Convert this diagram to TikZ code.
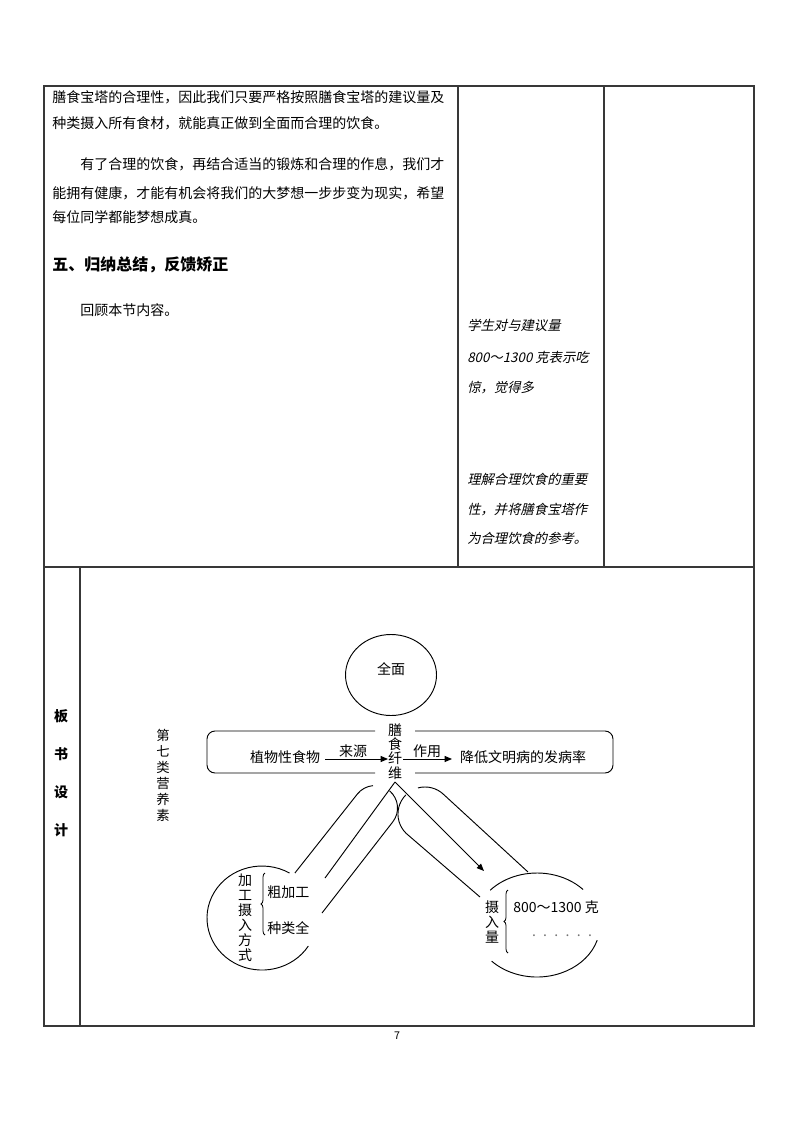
\documentclass[tikz,border=0pt]{standalone}
\usepackage{fontspec}
\setmainfont{Noto Sans CJK SC}
\newfontfamily\itfont{Noto Sans CJK SC}[FakeSlant=0.22]
\usetikzlibrary{arrows.meta,decorations.pathreplacing,shapes.geometric}
\begin{document}
\begin{tikzpicture}[x=0.75pt,y=-0.75pt,
  grid/.style={draw=black!78,line width=0.9pt},
  ln/.style={draw=black,line width=0.7pt},
  arr/.style={ln,-{Triangle[length=5.5pt,width=4.5pt]}},
  body/.style={font=\fontsize{10.5}{12}\selectfont,inner sep=0pt,anchor=west},
  note/.style={font=\itfont\fontsize{10}{12}\selectfont,inner sep=0pt,anchor=west},
  lbl/.style={font=\fontsize{10.5}{12}\selectfont,inner sep=0pt},
  brc/.style={ln,line width=0.6pt,decorate,decoration={brace,amplitude=3pt}}]
\useasboundingbox (0,0) rectangle (794,1123);
% ---------- table ----------
\draw[grid] (44,86) rectangle (754,1026);
\draw[grid] (44,567) -- (754,567);
\draw[grid] (458,86) -- (458,567);
\draw[grid] (604,86) -- (604,567);
\draw[grid] (80,567) -- (80,1026);
% ---------- upper left text ----------
\node[body] (t1) at (52,97) {膳食宝塔的合理性，因此我们只要严格按照膳食宝塔的建议量及};
\node[body] (t2) at (52,123) {种类摄入所有食材，就能真正做到全面而合理的饮食。};
\node[body] (t3) at (80,164) {有了合理的饮食，再结合适当的锻炼和合理的作息，我们才};
\node[body] (t4) at (52,193) {能拥有健康，才能有机会将我们的大梦想一步步变为现实，希望};
\node[body] (t5) at (52,217) {每位同学都能梦想成真。};
\node[body,font=\bfseries\fontsize{12}{14}\selectfont] (h5) at (52,265) {五、归纳总结，反馈矫正};
\node[body] (t6) at (80,310) {回顾本节内容。};
% ---------- middle column notes ----------
\node[note] (n1) at (467,325) {学生对与建议量};
\node[note] (n2) at (467,357) {800～1300 克表示吃};
\node[note] (n3) at (467,388) {惊，觉得多};
\node[note] (n4) at (467,479) {理解合理饮食的重要};
\node[note] (n5) at (467,510) {性，并将膳食宝塔作};
\node[note] (n6) at (467,538) {为合理饮食的参考。};
% ---------- lower left label ----------
\node[font=\bfseries\fontsize{10.5}{28.5}\selectfont,align=center,inner sep=0pt] (bsj) at (61,773.5) {板\\书\\设\\计};
% ---------- board design ----------
\node[font=\fontsize{10}{12}\selectfont,align=center,inner sep=0pt] (dqlyys) at (163,775) {第\\七\\类\\营\\养\\素};
\node[draw,ellipse,line width=0.7pt,minimum width=68.25pt,minimum height=60.75pt,inner sep=0pt] (qmcirc) at (391,675) {};
\node[lbl] (quanmian) at (391,669) {全面};
% rounded frame
\draw[ln,rounded corners=6pt] (375,731) -- (207,731) -- (207,773) -- (375,773);
\draw[ln,rounded corners=6pt] (415,731) -- (613,731) -- (613,773) -- (415,773);
\node[font=\fontsize{10.5}{10.7}\selectfont,align=center,inner sep=0pt] (shanshi) at (395,751.5) {膳\\食\\纤\\维};
\node[lbl] (zhiwu) at (285,757) {植物性食物};
\node[lbl] (laiyuan) at (353,751) {来源};
\node[lbl] (zuoyong) at (427,751) {作用};
\node[lbl] (jiangdi) at (523,757) {降低文明病的发病率};
\coordinate (a1s) at (325,759);
\coordinate (a1e) at (388,759);
\coordinate (a2s) at (403,759);
\coordinate (a2e) at (452,759);
\draw[arr] (a1s) -- (a1e);
\draw[arr] (a2s) -- (a2e);
% branches
\coordinate (apex) at (395,782);
\coordinate (lend) at (325,878);
\coordinate (rend) at (484,871);
\draw[ln] (apex) -- (lend);
\draw[arr] (apex) -- (rend);
% left tube
\draw[ln] (294.9,873) -- (357.3,794.1) arc[start angle=218.3,end angle=265,radius=22.5];
\draw[ln] (389.5,790.8) arc[start angle=310,end angle=398.3,radius=22.5] -- (322,913);
% right tube
\draw[ln] (480,897) -- (406.2,833.4) arc[start angle=134,end angle=225,radius=27];
\draw[ln] (418,787.9) arc[start angle=255,end angle=314,radius=27] -- (528,872);
% left circle
\draw[ln] (289.5,873) arc[start angle=300,end angle=32.6,x radius=55,y radius=52];
\node[font=\fontsize{10.5}{11.25}\selectfont,align=center,inner sep=0pt] (jgfs) at (245,917.5) {加\\工\\摄\\入\\方\\式};
\draw[brc] (265,935) -- (265,873);
\node[body] (cjg) at (267,892) {粗加工};
\node[body] (zlq) at (267,928) {种类全};
% right circle
\draw[ln] (490.2,890.2) arc[start angle=222,end angle=317,x radius=63,y radius=52];
\draw[ln] (597.2,940.2) arc[start angle=17,end angle=136,x radius=63,y radius=52];
\node[font=\fontsize{10.5}{11.25}\selectfont,align=center,inner sep=0pt] (srl) at (492,922) {摄\\入\\量};
\draw[brc] (508,953) -- (508,890);
\node[body] (liang) at (513,907) {800～1300 克};
\node[lbl,text=black!55] (dots) at (562,936) {. \ . \ . \ . \ . \ .};
% page number
\node[font=\fontsize{8}{9}\selectfont,inner sep=0pt] (pg) at (397,1036) {7};
\end{tikzpicture}
\end{document}
